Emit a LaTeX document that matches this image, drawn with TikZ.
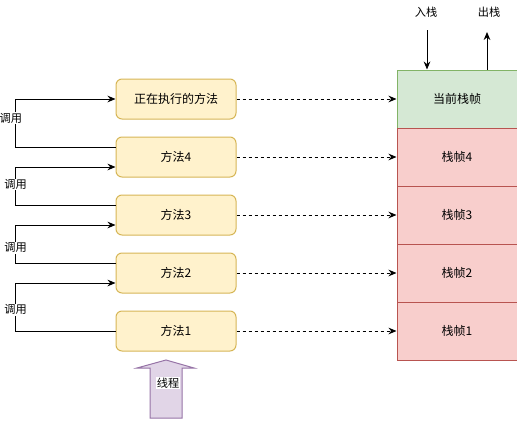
\documentclass[tikz,border=0pt]{standalone}
\usepackage{fontspec}
\setmainfont{Noto Sans CJK SC}
\usepackage{tikz}
\usetikzlibrary{arrows.meta,positioning,calc}
\definecolor{mfill}{HTML}{FFF2CC}
\definecolor{mdraw}{HTML}{D6B656}
\definecolor{curfill}{HTML}{D5E8D4}
\definecolor{curdraw}{HTML}{82B366}
\definecolor{frfill}{HTML}{F8CECC}
\definecolor{frdraw}{HTML}{B85450}
\definecolor{thfill}{HTML}{E1D5E7}
\definecolor{thdraw}{HTML}{9673A6}
\tikzset{
  txt/.style={font=\fontsize{9}{11}\selectfont,inner sep=1pt},
  smalltxt/.style={font=\fontsize{8.4}{10}\selectfont,inner sep=0.5pt},
  methodbox/.style={txt,draw=mdraw,fill=mfill,line width=0.75pt,rounded corners=4.5pt,minimum width=90pt,minimum height=30pt},
  framebox/.style={txt,draw=frdraw,fill=frfill,line width=0.75pt,minimum width=90pt,minimum height=43.5pt},
  callline/.style={line width=0.75pt,-{Stealth[length=6pt,width=5pt]}},
  dashline/.style={line width=0.75pt,dash pattern=on 2.25pt off 2.25pt,-{Stealth[length=6pt,width=5pt]}},
  calllbl/.style={smalltxt,fill=white}
}
\begin{document}
\begin{tikzpicture}[x=0.75pt,y=-0.75pt]
  \useasboundingbox (0,0) rectangle (517,421);
  % methods
  \node[methodbox] (m0) at (176,99) {正在执行的方法};
  \node[methodbox] (m4) at (176,157) {方法4};
  \node[methodbox] (m3) at (176,215) {方法3};
  \node[methodbox] (m2) at (176,273) {方法2};
  \node[methodbox] (m1) at (176,331) {方法1};
  % stack
  \node[framebox,draw=curdraw,fill=curfill] (cur) at (457,99) {当前栈帧};
  \node[framebox] (f4) at (457,157) {栈帧4};
  \node[framebox] (f3) at (457,215) {栈帧3};
  \node[framebox] (f2) at (457,273) {栈帧2};
  \node[framebox] (f1) at (457,331) {栈帧1};
  % calls
  \draw[callline] (m1.west) -- ++(-100,0) |- node[pos=0.22,calllbl] {调用} ([yshift=-7.5pt]m2.west);
  \draw[callline] ([yshift=7.5pt]m2.west) -- ++(-100,0) |- node[pos=0.2,calllbl] {调用} ([yshift=-7.5pt]m3.west);
  \draw[callline] ([yshift=7.5pt]m3.west) -- ++(-100,0) |- node[pos=0.27,calllbl] {调用} ([yshift=-7.5pt]m4.west);
  \draw[callline] ([yshift=7.5pt]m4.west) -- ++(-100,0) |- node[pos=0.3,calllbl,xshift=-3.5pt] {调用} (m0.west);
  % method -> frame
  \draw[dashline] (m0.east) -- (cur.west);
  \draw[dashline] (m4.east) -- (f4.west);
  \draw[dashline] (m3.east) -- (f3.west);
  \draw[dashline] (m2.east) -- (f2.west);
  \draw[dashline] (m1.east) -- (f1.west);
  % push / pop
  \node[smalltxt] (push) at (426,12) {入栈};
  \node[smalltxt] (pop) at (489,12) {出栈};
  \coordinate (pushtop) at (427,30);
  \coordinate (poptop) at (487,32);
  \draw[callline] (pushtop) -- (pushtop |- cur.north);
  \draw[callline] (poptop |- cur.north) -- (poptop);
  % thread
  \draw[draw=thdraw,fill=thfill,line width=0.75pt,line join=miter]
    (150,418) -- (150,368) -- (137,368) -- (166,360) -- (194,368) -- (182,368) -- (182,418) -- cycle;
  \node[smalltxt,fill=white] (thread) at (168,383) {线程};
\end{tikzpicture}
\end{document}
